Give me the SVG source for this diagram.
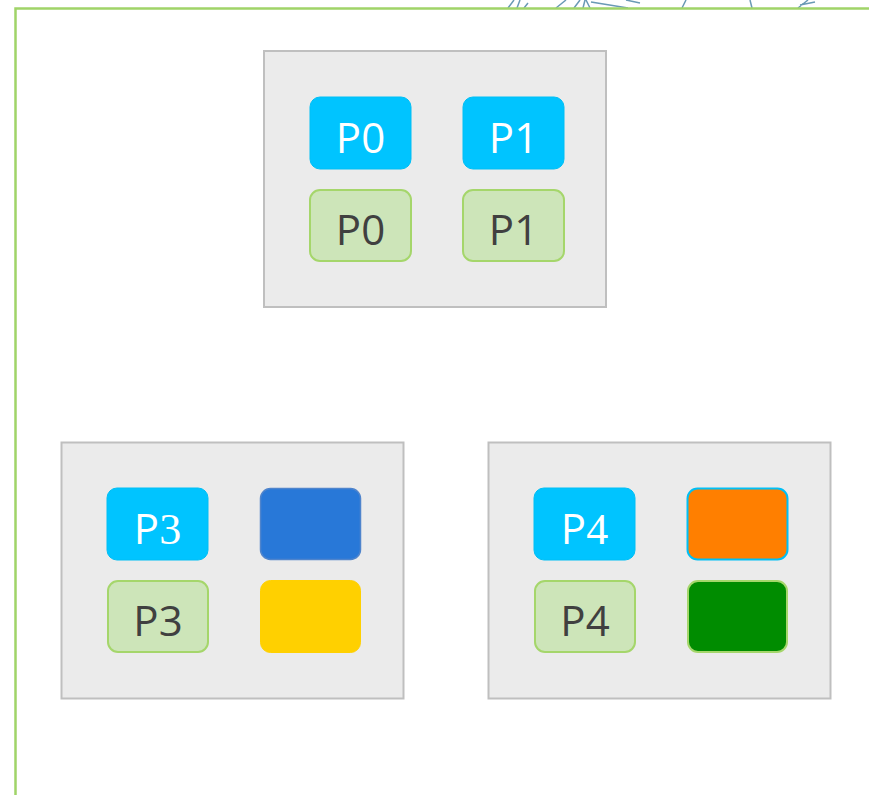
<svg xmlns="http://www.w3.org/2000/svg" width="869" height="795" viewBox="0 0 869 795">
<style>
.panel{fill:#ebebeb;stroke:#bfbfbf;stroke-width:2}
.blue{fill:#00c4ff;stroke:#00bff5;stroke-width:1}
.lg{fill:#cde5b9;stroke:#a5d66b;stroke-width:2}
.tw{font-family:"Open Sans","Liberation Sans",sans-serif;font-size:42px;fill:#ffffff;text-anchor:middle}
.td{font-family:"Open Sans","Liberation Sans",sans-serif;font-size:42px;fill:#404040;text-anchor:middle}
text tspan.serif{font-family:"Liberation Serif","DejaVu Serif",serif;font-size:44px}
.deco{stroke:#6a9ab5;stroke-width:1.5;fill:none}
</style>
<rect width="869" height="795" fill="#ffffff"/>
<g id="decoration">
<path class="deco" d="M508,8 L514,0 M517,8 L520,0 M528,3 L524,8 M556,8 L566,0 M574,8 L580,0 M583,8 L585,0 M586,0 L590,8 M591,2 L628,8 M626,0 L640,3 M682,8 L686,0 M752,8 L750,0 M798,8 L808,0 M800,5 L815,2"/>
</g>
<rect x="15.5" y="8.5" width="870" height="800" fill="none" stroke="#a0d468" stroke-width="2.5"/>
<g id="panel-top">
<rect class="panel" x="264" y="51" width="342" height="256"/>
</g>
<g id="panel-left">
<rect class="panel" x="61.5" y="442.5" width="342" height="256"/>
</g>
<g id="panel-right">
<rect class="panel" x="488.5" y="442.5" width="342" height="256"/>
</g>
<g id="p0-blue"><rect class="blue" x="310" y="97" width="101" height="72" rx="10"/><text class="tw" x="360.5" y="153">P0</text></g>
<g id="p1-blue"><rect class="blue" x="463" y="97" width="101" height="72" rx="10"/><text class="tw" x="513.5" y="153">P1</text></g>
<g id="p0-green"><rect class="lg" x="310" y="190" width="101" height="71" rx="10"/><text class="td" x="360.5" y="245">P0</text></g>
<g id="p1-green"><rect class="lg" x="463" y="190" width="101" height="71" rx="10"/><text class="td" x="513.5" y="245">P1</text></g>
<g id="p3-blue"><rect class="blue" x="107" y="488" width="101" height="72" rx="10"/><text class="tw" x="157.5" y="544">P<tspan class="serif" font-family="Liberation Serif, serif">3</tspan></text></g>
<g id="darkblue-box"><rect x="260.5" y="488.5" width="100" height="71" rx="10" fill="#2878d8" stroke="#4f84cc" stroke-width="1.5"/></g>
<g id="p3-green"><rect class="lg" x="108" y="581" width="100" height="71" rx="10"/><text class="td" x="158" y="636">P3</text></g>
<g id="yellow-box"><rect x="260.5" y="580.5" width="100" height="72" rx="10" fill="#ffd000" stroke="#ffd000" stroke-width="1"/></g>
<g id="p4-blue"><rect class="blue" x="534" y="488" width="101" height="72" rx="10"/><text class="tw" x="584.5" y="544">P<tspan class="serif" font-family="Liberation Serif, serif">4</tspan></text></g>
<g id="orange-box"><rect x="687.5" y="488.5" width="100" height="71" rx="10" fill="#ff7f00" stroke="#00bff5" stroke-width="2"/></g>
<g id="p4-green"><rect class="lg" x="535" y="581" width="100" height="71" rx="10"/><text class="td" x="585" y="636">P4</text></g>
<g id="green-box"><rect x="688" y="581" width="99" height="71" rx="10" fill="#008c00" stroke="#a5d66b" stroke-width="2"/></g>
<g id="connectors"></g>
</svg>
